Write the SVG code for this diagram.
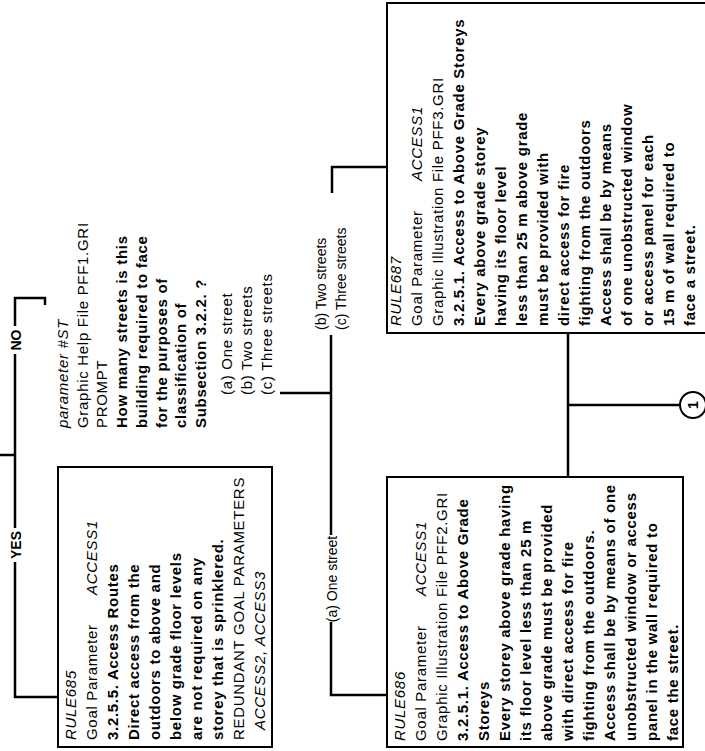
<svg xmlns="http://www.w3.org/2000/svg" width="705" height="751" viewBox="0 0 705 751">
<style>
.t{font-family:"Liberation Sans",Arial,sans-serif;font-size:15px;fill:#000;letter-spacing:0.7px}
.l{font-family:"Liberation Sans",Arial,sans-serif;font-size:14px;fill:#000}
.b{font-weight:bold}
.i{font-style:italic}
.box{fill:none;stroke:#000;stroke-width:2}
.c{fill:none;stroke:#000;stroke-width:2.5}
</style>
<rect width="705" height="751" fill="#fff"/>
<g id="connectors">
<path class="c" d="M0,455 H15"/>
<path class="c" d="M45,305 V298 H15 V326"/>
<path class="c" d="M15,354 V528"/>
<path class="c" d="M15,562 V697 H58"/>
<path class="c" d="M280,393 H331"/>
<path class="c" d="M331,335 V535"/>
<path class="c" d="M331,622 V695 H387"/>
<path class="c" d="M332,193 V167 H387"/>
<path class="c" d="M568,333 V477"/>
<path class="c" d="M568,405 H680"/>
<text class="l b" text-anchor="middle" transform="translate(21,340) rotate(-90)">NO</text>
<text class="l b" text-anchor="middle" transform="translate(21,545) rotate(-90)">YES</text>
<text class="l" text-anchor="middle" transform="translate(337,579) rotate(-90)">(a) One street</text>
<text class="l" transform="translate(326,330) rotate(-90)">(b) Two streets</text>
<text class="l" transform="translate(346,330) rotate(-90)">(c) Three streets</text>
</g>
<g id="offpage1">
<circle cx="693" cy="405" r="13" fill="none" stroke="#000" stroke-width="2"/>
<text class="l b" text-anchor="middle" transform="translate(698,405) rotate(-90)">1</text>
</g>
<g id="param">
<text class="t i" transform="translate(68,428) rotate(-90)">parameter #ST</text>
<text class="t" transform="translate(88,428) rotate(-90)">Graphic Help File PFF1.GRI</text>
<text class="t" transform="translate(107,428) rotate(-90)">PROMPT</text>
<text class="t b" transform="translate(127,428) rotate(-90)">How many streets is this</text>
<text class="t b" transform="translate(147,428) rotate(-90)">building required to face</text>
<text class="t b" transform="translate(167,428) rotate(-90)">for the purposes of</text>
<text class="t b" transform="translate(186,428) rotate(-90)">classification of</text>
<text class="t b" transform="translate(206,428) rotate(-90)">Subsection 3.2.2. ?</text>
<text class="t" transform="translate(232,395) rotate(-90)">(a) One street</text>
<text class="t" transform="translate(252,395) rotate(-90)">(b) Two streets</text>
<text class="t" transform="translate(272,395) rotate(-90)">(c) Three streets</text>
</g>
<g id="rule685">
<rect class="box" x="58" y="467" width="214" height="280"/>
<text class="t i" transform="translate(76,740) rotate(-90)">RULE685</text>
<text class="t" transform="translate(97,740) rotate(-90)">Goal Parameter<tspan class="i" x="145">ACCESS1</tspan></text>
<text class="t b" transform="translate(118,740) rotate(-90)">3.2.5.5. Access Routes</text>
<text class="t b" transform="translate(139,740) rotate(-90)">Direct access from the</text>
<text class="t b" transform="translate(160,740) rotate(-90)">outdoors to above and</text>
<text class="t b" transform="translate(181,740) rotate(-90)">below grade floor levels</text>
<text class="t b" transform="translate(202,740) rotate(-90)">are not required on any</text>
<text class="t b" transform="translate(223,740) rotate(-90)">storey that is sprinklered.</text>
<text class="t" transform="translate(244,740) rotate(-90)">REDUNDANT GOAL PARAMETERS</text>
<text class="t i" transform="translate(265,730) rotate(-90)">ACCESS2, ACCESS3</text>
</g>
<g id="rule686">
<rect class="box" x="387" y="477" width="296" height="270"/>
<text class="t i" transform="translate(405,741) rotate(-90)">RULE686</text>
<text class="t" transform="translate(426,741) rotate(-90)">Goal Parameter<tspan class="i" x="145">ACCESS1</tspan></text>
<text class="t" transform="translate(447,741) rotate(-90)">Graphic Illustration File PFF2.GRI</text>
<text class="t b" transform="translate(468,741) rotate(-90)">3.2.5.1. Access to Above Grade</text>
<text class="t b" transform="translate(489,741) rotate(-90)">Storeys</text>
<text class="t b" transform="translate(510,741) rotate(-90)">Every storey above grade having</text>
<text class="t b" transform="translate(531,741) rotate(-90)">its floor level less than 25 m</text>
<text class="t b" transform="translate(552,741) rotate(-90)">above grade must be provided</text>
<text class="t b" transform="translate(573,741) rotate(-90)">with direct access for fire</text>
<text class="t b" transform="translate(594,741) rotate(-90)">fighting from the outdoors.</text>
<text class="t b" transform="translate(615,741) rotate(-90)">Access shall be by means of one</text>
<text class="t b" transform="translate(636,741) rotate(-90)">unobstructed window or access</text>
<text class="t b" transform="translate(657,741) rotate(-90)">panel in the wall required to</text>
<text class="t b" transform="translate(678,741) rotate(-90)">face the street.</text>
</g>
<g id="rule687">
<rect class="box" x="387" y="3" width="330" height="330"/>
<text class="t i" transform="translate(401,326) rotate(-90)">RULE687</text>
<text class="t" transform="translate(422,326) rotate(-90)">Goal Parameter<tspan class="i" x="145">ACCESS1</tspan></text>
<text class="t" transform="translate(443,326) rotate(-90)">Graphic Illustration File PFF3.GRI</text>
<text class="t b" transform="translate(464,326) rotate(-90)">3.2.5.1. Access to Above Grade Storeys</text>
<text class="t b" transform="translate(485,326) rotate(-90)">Every above grade storey</text>
<text class="t b" transform="translate(506,326) rotate(-90)">having its floor level</text>
<text class="t b" transform="translate(527,326) rotate(-90)">less than 25 m above grade</text>
<text class="t b" transform="translate(548,326) rotate(-90)">must be provided with</text>
<text class="t b" transform="translate(569,326) rotate(-90)">direct access for fire</text>
<text class="t b" transform="translate(590,326) rotate(-90)">fighting from the outdoors</text>
<text class="t b" transform="translate(611,326) rotate(-90)">Access shall be by means</text>
<text class="t b" transform="translate(632,326) rotate(-90)">of one unobstructed window</text>
<text class="t b" transform="translate(653,326) rotate(-90)">or access panel for each</text>
<text class="t b" transform="translate(674,326) rotate(-90)">15 m of wall required to</text>
<text class="t b" transform="translate(695,326) rotate(-90)">face a street.</text>
</g>
</svg>
